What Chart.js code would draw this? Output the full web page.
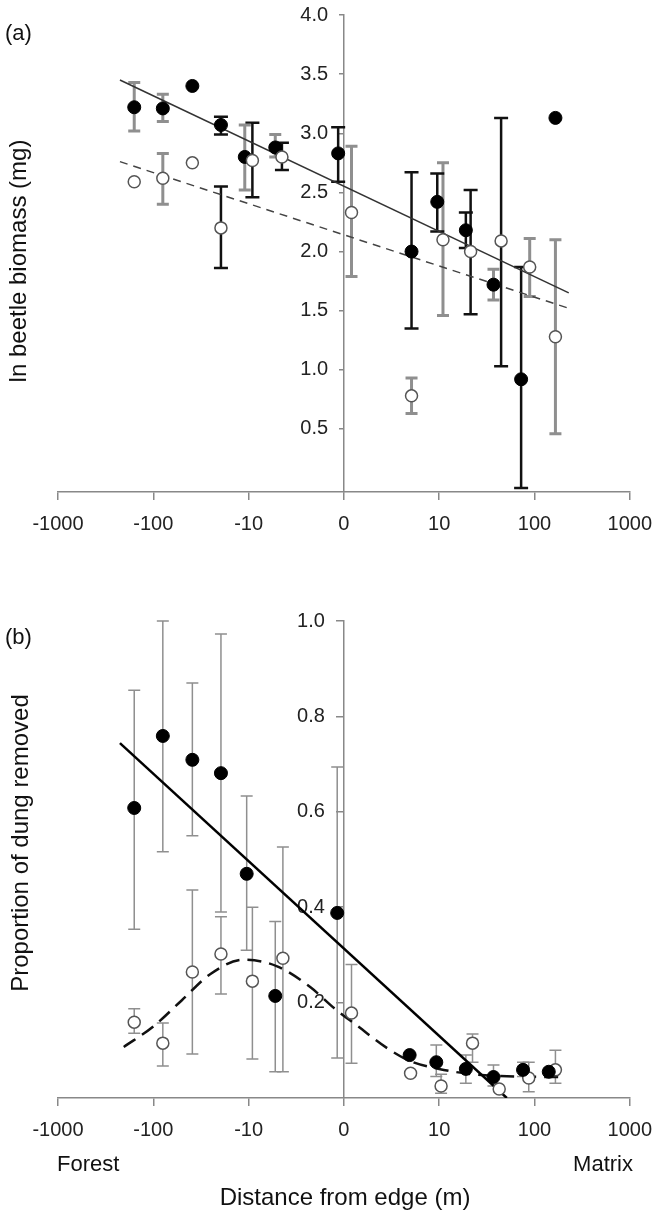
<!DOCTYPE html>
<html><head><meta charset="utf-8">
<script src="https://cdn.jsdelivr.net/npm/chart.js@4.4.1/dist/chart.umd.min.js"></script>
<style>
html,body{margin:0;padding:0;background:#fff;}
#wrap{position:relative;width:664px;height:1217px;overflow:hidden;}
canvas{position:absolute;left:0;}
#cA{top:0;} #cB{top:560px;}
</style></head><body>
<div id="wrap"><canvas id="cA" width="664" height="560"></canvas><canvas id="cB" width="664" height="657"></canvas></div>
<script>
// x axis: signed log10 distance from edge, in decades (0 = edge)
const xTickPos = [-3, -2, -1, 0, 1, 2, 3];
const xTickLabels = ['-1000', '-100', '-10', '0', '10', '100', '1000'];
const yTicksA = [0.5, 1.0, 1.5, 2.0, 2.5, 3.0, 3.5, 4.0];
const yTicksB = [0.2, 0.4, 0.6, 0.8, 1.0];

// ---- Panel (a): ln beetle biomass ----
const xFilledA = [-2.20, -1.90, -1.59, -1.29, -1.04, -0.72, -0.06, 0.71, 0.98, 1.28, 1.57, 1.86, 2.22];
const yFilledA = [3.22, 3.21, 3.40, 3.07, 2.80, 2.88, 2.83, 2.00, 2.42, 2.18, 1.72, 0.92, 3.13];
const loFilledA = [3.02, 3.10, null, 2.99, 2.52, 2.80, 2.59, 1.35, 2.17, 2.03, 1.59, 0.00, null];
const hiFilledA = [3.43, 3.33, null, 3.14, 3.07, 2.99, 3.05, 2.67, 2.66, 2.33, 1.85, 1.87, null];
const xOpenA = [-2.20, -1.90, -1.59, -1.29, -0.96, -0.65, 0.08, 0.71, 1.04, 1.33, 1.65, 1.95, 2.22];
const yOpenA = [2.59, 2.62, 2.75, 2.20, 2.77, 2.80, 2.33, 0.78, 2.10, 2.00, 2.09, 1.87, 1.28];
const loOpenA = [null, 2.40, null, 1.86, 2.46, 2.69, 1.79, 0.63, 1.46, 1.47, 1.03, 1.62, 0.46];
const hiOpenA = [null, 2.83, null, 2.55, 3.09, 2.92, 2.89, 0.93, 2.75, 2.52, 3.13, 2.11, 2.10];
const fitFilledAx = [-2.35, 2.36];
const fitFilledAy = [3.45, 1.65];
const fitOpenAx = [-2.35, 2.36];
const fitOpenAy = [2.76, 1.52];

// ---- Panel (b): proportion of dung removed ----
const xFilledB = [-2.20, -1.90, -1.59, -1.29, -1.02, -0.72, -0.07, 0.69, 0.97, 1.28, 1.57, 1.88, 2.15];
const yFilledB = [0.608, 0.759, 0.709, 0.681, 0.470, 0.214, 0.388, 0.090, 0.075, 0.061, 0.044, 0.059, 0.055];
const loFilledB = [0.354, 0.516, 0.550, 0.390, 0.310, 0.055, 0.084, null, 0.045, 0.031, 0.025, 0.045, null];
const hiFilledB = [0.855, 1.000, 0.870, 0.973, 0.633, 0.370, 0.694, null, 0.111, 0.090, 0.069, 0.075, null];
const xOpenB = [-2.20, -1.90, -1.59, -1.29, -0.96, -0.64, 0.08, 0.70, 1.02, 1.35, 1.63, 1.94, 2.22];
const yOpenB = [0.159, 0.115, 0.264, 0.302, 0.245, 0.293, 0.178, 0.052, 0.025, 0.115, 0.019, 0.042, 0.059];
const loOpenB = [0.136, 0.067, 0.092, 0.218, 0.082, 0.055, 0.073, null, 0.010, 0.075, null, 0.013, 0.031];
const hiOpenB = [0.187, 0.157, 0.436, 0.380, 0.400, 0.526, 0.280, null, 0.050, 0.134, null, 0.075, 0.100];
const fitFilledBx = [-2.35, 1.71];
const fitFilledBy = [0.744, 0.0];
const curveOpenBx = [-2.31, -2.00, -1.70, -1.40, -1.05, -0.70, -0.35, -0.10, 0.15, 0.45, 0.70, 1.00, 1.30, 1.80, 2.32];
const curveOpenBy = [0.107, 0.150, 0.205, 0.260, 0.290, 0.276, 0.232, 0.188, 0.150, 0.105, 0.077, 0.061, 0.051, 0.045, 0.044];

// error-bar styles (k = black, g = grey)
const barStyleFilledA = ['g', 'g', null, 'k', 'g', 'g', 'k', 'k', 'k', 'k', 'g', 'k', null];
const barStyleOpenA = [null, 'g', null, 'k', 'k', 'k', 'g', 'g', 'g', 'k', 'k', 'g', 'g'];

const FONT = '"Liberation Sans", Arial, Helvetica, sans-serif';
const pts = (xs, ys) => xs.map((x, i) => ({x: x, y: ys[i]}));

const errorBars = {
  id: 'errorBars',
  beforeDatasetsDraw(chart) {
    const ctx = chart.ctx;
    const ys = chart.scales.y;
    chart.data.datasets.forEach((ds, di) => {
      if (!ds.errLow) return;
      const meta = chart.getDatasetMeta(di);
      meta.data.forEach((el, i) => {
        const lo = ds.errLow[i], hi = ds.errHigh[i];
        if (lo == null || hi == null) return;
        const st = ds.errStyle ? ds.errStyle[i] : 'g';
        const s = ds.errStyles[st];
        const x = el.x, y1 = ys.getPixelForValue(lo), y2 = ys.getPixelForValue(hi);
        ctx.save();
        ctx.strokeStyle = s.color;
        ctx.lineWidth = s.width;
        ctx.beginPath();
        ctx.moveTo(x, y1); ctx.lineTo(x, y2);
        ctx.moveTo(x - s.cap, y1); ctx.lineTo(x + s.cap, y1);
        ctx.moveTo(x - s.cap, y2); ctx.lineTo(x + s.cap, y2);
        ctx.stroke();
        ctx.restore();
      });
    });
  }
};

const textPlugin = {
  id: 'texts',
  afterDraw(chart, args, opts) {
    const ctx = chart.ctx;
    (opts.items || []).forEach(t => {
      ctx.save();
      ctx.fillStyle = '#111';
      ctx.font = t.size + 'px ' + FONT;
      ctx.textAlign = t.align || 'center';
      ctx.textBaseline = 'middle';
      ctx.translate(t.x, t.y);
      if (t.rot) ctx.rotate(t.rot);
      ctx.fillText(t.text, 0, 0);
      ctx.restore();
    });
  }
};

function scales(yTicks, yMin, yMax, xHeight, yTickLen, labX) {
  const yBuild = s => { s.ticks = yTicks.map(v => ({value: v})); };
  return {
    x: {
      type: 'linear', min: -3, max: 3,
      afterBuildTicks: s => { s.ticks = xTickPos.map(v => ({value: v})); },
      afterFit: s => { s.height = xHeight; },
      ticks: {
        callback: v => xTickLabels[xTickPos.indexOf(v)],
        color: '#222', font: {family: FONT, size: 20}, padding: 12,
        maxRotation: 0, autoSkip: false
      },
      grid: {drawOnChartArea: false, drawTicks: true, tickLength: 8, color: '#888', lineWidth: 1.5},
      border: {display: true, color: '#888', width: 1.5}
    },
    y: {
      type: 'linear', position: {x: 0}, min: yMin, max: yMax,
      afterBuildTicks: yBuild,
      ticks: {display: false},
      grid: {drawOnChartArea: false, drawTicks: true, tickLength: yTickLen, color: '#888', lineWidth: 1.5},
      border: {display: true, color: '#888', width: 1.5}
    },
    yLabels: {
      type: 'linear', axis: 'y', position: {x: labX}, min: yMin, max: yMax,
      afterBuildTicks: yBuild,
      ticks: {
        callback: v => Number(v).toFixed(1),
        color: '#222', font: {family: FONT, size: 20}, padding: 0
      },
      grid: {display: false},
      border: {display: false}
    }
  };
}

const base = {
  animation: false, responsive: false, devicePixelRatio: 1, events: [],
};

// ---------- Chart (a) ----------
const barA = {k: {color: '#111', width: 2.5, cap: 7}, g: {color: '#8f8f8f', width: 3, cap: 6}};
new Chart(document.getElementById('cA'), {
  type: 'scatter',
  data: {
    datasets: [
      {data: pts(xOpenA, yOpenA), pointRadius: 6, pointBackgroundColor: '#fff', pointBorderColor: '#555', pointBorderWidth: 1.5,
       errLow: loOpenA, errHigh: hiOpenA, errStyle: barStyleOpenA, errStyles: barA},
      {data: pts(xFilledA, yFilledA), pointRadius: 6.5, pointBackgroundColor: '#000', pointBorderColor: '#000', pointBorderWidth: 1,
       errLow: loFilledA, errHigh: hiFilledA, errStyle: barStyleFilledA, errStyles: barA},
      {data: pts(fitFilledAx, fitFilledAy), showLine: true, pointRadius: 0, borderColor: '#333', borderWidth: 1.5},
      {data: pts(fitOpenAx, fitOpenAy), showLine: true, pointRadius: 0, borderColor: '#444', borderWidth: 1.5, borderDash: [8, 6]}
    ]
  },
  options: Object.assign({}, base, {
    layout: {padding: {left: 58, right: 32, top: 15, bottom: 0}},
    scales: scales(yTicksA, -0.033, 4.0, 68, 4, -0.165),
    plugins: {
      legend: {display: false}, tooltip: {enabled: false},
      texts: {items: [
        {text: '(a)', x: 5, y: 34, align: 'left', size: 22},
        {text: 'ln beetle biomass (mg)', x: 19, y: 261, rot: -Math.PI / 2, size: 24}
      ]}
    }
  }),
  plugins: [errorBars, textPlugin]
});

// ---------- Chart (b) ----------
const barB = {g: {color: '#8f8f8f', width: 1.5, cap: 6}};
new Chart(document.getElementById('cB'), {
  type: 'scatter',
  data: {
    datasets: [
      {data: pts(xFilledB, yFilledB), pointRadius: 6.5, pointBackgroundColor: '#000', pointBorderColor: '#000', pointBorderWidth: 1,
       errLow: loFilledB, errHigh: hiFilledB, errStyles: barB},
      {data: pts(xOpenB, yOpenB), pointRadius: 6, pointBackgroundColor: '#fff', pointBorderColor: '#555', pointBorderWidth: 1.5,
       errLow: loOpenB, errHigh: hiOpenB, errStyles: barB},
      {data: pts(fitFilledBx, fitFilledBy), showLine: true, pointRadius: 0, borderColor: '#000', borderWidth: 2.5},
      {data: pts(curveOpenBx, curveOpenBy), showLine: true, pointRadius: 0, borderColor: '#111', borderWidth: 2.5,
       borderDash: [14, 8], cubicInterpolationMode: 'monotone'}
    ]
  },
  options: Object.assign({}, base, {
    layout: {padding: {left: 58, right: 32, top: 61, bottom: 0}},
    scales: scales(yTicksB, 0, 1.0, 119, 7, -0.2),
    plugins: {
      legend: {display: false}, tooltip: {enabled: false},
      texts: {items: [
        {text: '(b)', x: 5, y: 78, align: 'left', size: 22},
        {text: 'Proportion of dung removed', x: 21, y: 283, rot: -Math.PI / 2, size: 24},
        {text: 'Forest', x: 57, y: 605, align: 'left', size: 22},
        {text: 'Matrix', x: 633, y: 605, align: 'right', size: 22},
        {text: 'Distance from edge (m)', x: 345, y: 638, size: 24}
      ]}
    }
  }),
  plugins: [errorBars, textPlugin]
});
</script>
</body></html>
